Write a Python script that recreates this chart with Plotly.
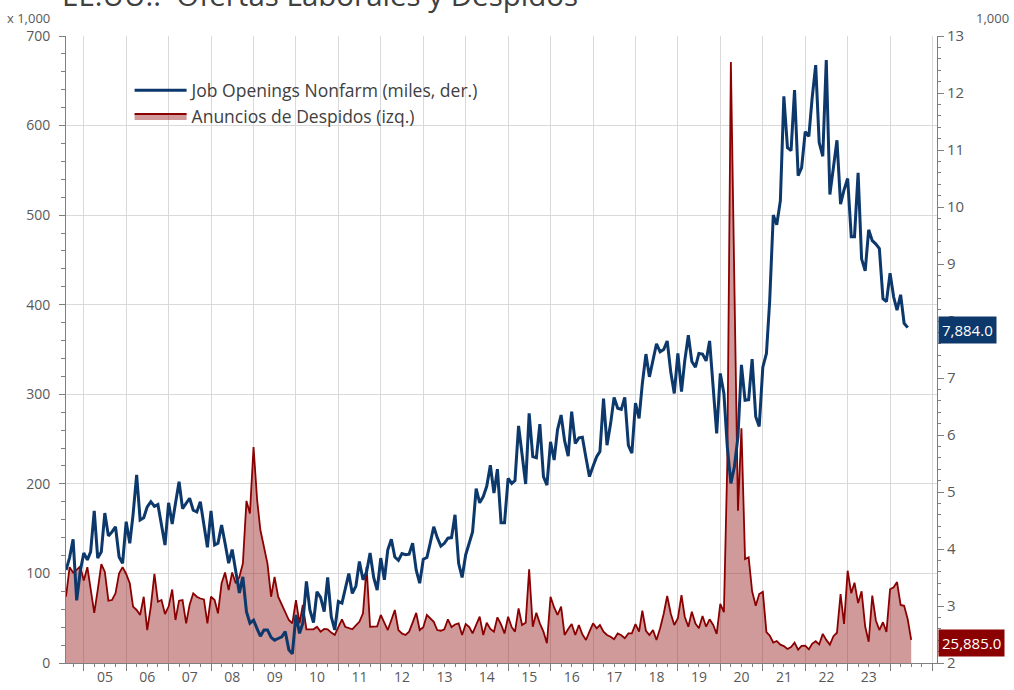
import pandas as pd
import plotly.graph_objects as go

# ---------------- data ----------------
start_month = "2004-08-01"

# Anuncios de despidos (Challenger), miles  -> eje izquierdo (x 1,000)
despidos = [
    74, 107, 101, 104, 108, 92, 107, 81.5, 56, 81.5, 110.5, 102, 69.6, 70.3, 77.8, 100,
    107, 99.4, 89, 62.9, 59.2, 53.6, 74, 36.8, 63, 99.4, 68.4, 70.3, 54.7, 63, 82, 48,
    69.6, 70.3, 44.3, 65, 77.8, 74, 72, 71, 44.3, 74, 70.3, 55.5, 89, 101, 81.5, 101,
    89, 96, 111, 181, 167, 241, 182, 148.5, 130, 111, 74, 96, 74, 65, 55.5, 48,
    44.3, 70.3, 44.3, 64.8, 37.6, 38, 37.6, 40.5, 35, 38, 37.6, 34, 31.3, 40, 48.8, 40.5,
    39, 37.6, 42, 46, 55.5, 107.5, 40.5, 40.5, 41, 53.6, 45, 36.8, 48, 59.2, 36.8, 33,
    31.3, 35, 45, 56, 36.8, 40, 53.6, 50, 46, 36.8, 36, 37.6, 48.8, 40, 43, 44.3,
    31.3, 43.5, 40, 33, 42, 51.7, 31.3, 45, 38, 35, 51, 43, 33, 51.7, 40, 35,
    61, 42.4, 45, 104.6, 40.5, 56, 44.3, 35, 22, 74, 62, 53.6, 63, 31.3, 38, 43.5,
    31.3, 42.4, 32, 25.7, 35, 44.3, 38.7, 42.4, 35, 31.3, 29.4, 26.5, 33, 31, 27.6, 33,
    33, 43.5, 35, 58.4, 36, 31.3, 36.8, 25.7, 38.7, 55, 74.8, 55, 42.4, 50, 75.9, 51.7,
    40.5, 57.3, 44, 38.7, 52.5, 40.5, 48.8, 42.4, 32.4, 65.9, 56.7, 222, 671, 397, 170, 262,
    116, 118, 80, 64, 77, 79.5, 34.5, 30.6, 22.9, 24.6, 20.5, 18.9, 15.7, 17.9, 22.8, 14.9,
    19.1, 19.3, 15.2, 21.4, 24.3, 20.7, 32.5, 25.8, 20.5, 29.9, 33.8, 77, 43.6, 103, 77.8, 89.7,
    66.9, 80, 40.7, 23.7, 75.2, 47.5, 36.8, 45.5, 34.8, 82.3, 84.6, 90.3, 64.8, 63.8, 48.8, 25.885,
]

# Job Openings Nonfarm, millones -> eje derecho (1,000 de miles)
ofertas = [
    3.63, 3.85, 4.17, 3.1, 3.6, 3.93, 3.81, 3.95, 4.67, 3.84, 3.95, 4.63, 4.23, 4.3, 4.39, 3.86,
    3.75, 4.48, 4.1, 4.6, 5.3, 4.51, 4.55, 4.74, 4.83, 4.75, 4.78, 4.4, 4.07, 4.81, 4.44, 4.8,
    5.18, 4.71, 4.8, 4.89, 4.68, 4.65, 4.83, 4.4, 4.03, 4.67, 4.07, 4.1, 4.42, 4.1, 3.75, 3.99,
    3.6, 3.23, 3.51, 2.9, 2.7, 2.75, 2.6, 2.47, 2.58, 2.58, 2.45, 2.4, 2.43, 2.46, 2.55, 2.23,
    2.16, 2.84, 2.52, 2.7, 3.43, 2.93, 2.71, 3.25, 3.15, 2.9, 3.5, 2.81, 2.58, 3.08, 3.05, 3.3,
    3.57, 3.22, 3.35, 3.78, 3.46, 3.6, 3.93, 3.5, 3.28, 3.84, 3.46, 3.98, 4.17, 3.86, 3.8, 3.92,
    3.9, 3.91, 4.1, 3.63, 3.4, 3.82, 3.85, 4.1, 4.39, 4.2, 4.05, 4.1, 4.19, 4.2, 4.6, 3.75,
    3.5, 3.9, 4.1, 4.3, 5.06, 4.81, 4.92, 5.1, 5.47, 4.98, 5.4, 4.46, 4.46, 5.24, 5.15, 5.2,
    6.16, 5.6, 5.14, 6.38, 5.62, 5.6, 6.19, 5.27, 5.12, 5.88, 5.56, 6.09, 6.35, 5.9, 5.63, 6.41,
    5.85, 5.95, 5.96, 5.6, 5.27, 5.45, 5.62, 5.71, 6.64, 5.82, 6.2, 6.66, 6.47, 6.45, 6.66, 5.82,
    5.68, 6.56, 6.29, 6.9, 7.42, 7.02, 7.3, 7.6, 7.46, 7.5, 7.65, 7.1, 6.73, 7.43, 6.76, 7.3,
    7.75, 7.29, 7.19, 7.43, 7.42, 7.3, 7.65, 6.73, 6.03, 7.08, 6.73, 5.8, 5.15, 5.44, 5.97, 7.23,
    6.61, 6.62, 7.33, 6.32, 6.15, 7.19, 7.43, 8.35, 9.86, 9.69, 10.11, 11.94, 11.04, 10.99, 12.05, 10.55,
    10.69, 11.32, 11.24, 11.9, 12.49, 11.13, 10.89, 12.58, 10.22, 10.7, 11.17, 10.05, 10.3, 10.5, 9.48, 9.48,
    10.6, 9.09, 8.88, 9.6, 9.41, 9.35, 9.27, 8.39, 8.34, 8.84, 8.42, 8.19, 8.46, 7.96, 7.884,
]

year_labels = ["05", "06", "07", "08", "09", "10", "11", "12", "13", "14",
               "15", "16", "17", "18", "19", "20", "21", "22", "23"]
label_years = list(range(2005, 2024))

name_ofertas = "Job Openings Nonfarm (miles, der.)"
name_despidos = "Anuncios de Despidos (izq.)"
title_text = "EE.UU.:  Ofertas Laborales y Despidos"

# ---------------- figure ----------------
d_desp = pd.date_range(start_month, periods=len(despidos), freq="MS")
d_ofer = pd.date_range(start_month, periods=len(ofertas), freq="MS")
label_pos = [pd.Timestamp(f"{y}-07-02") for y in label_years]

BLUE = "#0c386b"
RED = "#8b0000"
GRID = "#d9d9d9"
AXIS = "#7f7f7f"
TXT = "#595959"
FONT = "Open Sans, Noto Sans, sans-serif"
XRANGE = ["2004-08-01", "2025-02-08"]

fig = go.Figure()
fig.add_trace(go.Scatter(
    x=d_desp, y=despidos, name=name_despidos, mode="lines",
    line=dict(color=RED, width=1.8), fill="tozeroy",
    fillcolor="rgba(150,30,30,0.45)", xaxis="x", yaxis="y", legendrank=2,
))
fig.add_trace(go.Scatter(
    x=d_ofer, y=ofertas, name=name_ofertas, mode="lines",
    line=dict(color=BLUE, width=3), xaxis="x2", yaxis="y2", legendrank=1,
))

fig.update_layout(
    width=1014, height=690, autosize=False,
    margin=dict(l=66, r=77, t=36, b=27, autoexpand=False),
    paper_bgcolor="white", plot_bgcolor="white",
    font=dict(family=FONT, color=TXT, size=13),
    showlegend=True,
    legend=dict(x=0.073, y=0.942, xanchor="left", yanchor="top",
                bgcolor="rgba(0,0,0,0)", font=dict(size=17.5, color="#404040"),
                itemwidth=52, tracegroupgap=0),
    xaxis=dict(
        type="date", range=XRANGE, domain=[0, 1], anchor="y", automargin=False,
        tickmode="linear", tick0="2005-01-01", dtick="M12",
        showticklabels=False, ticks="outside", ticklen=7, tickcolor=AXIS,
        showgrid=True, gridcolor=GRID, gridwidth=1,
        showline=True, linecolor=AXIS, linewidth=1, zeroline=False,
        minor=dict(tick0="2005-01-01", dtick="M3", ticks="outside",
                   ticklen=3, tickcolor=AXIS, showgrid=False),
    ),
    xaxis2=dict(
        type="date", range=XRANGE, overlaying="x", anchor="y2", side="bottom",
        automargin=False,
        tickmode="array", tickvals=label_pos, ticktext=year_labels,
        ticks="", showgrid=False, showline=False, zeroline=False,
        ticklabelstandoff=4,
        tickfont=dict(size=14, color=TXT),
    ),
    yaxis=dict(
        range=[0, 700], dtick=100, tick0=0, anchor="x", side="left", automargin=False,
        ticks="outside", ticklen=6, tickcolor=AXIS,
        showgrid=True, gridcolor=GRID, gridwidth=1,
        showline=True, linecolor=AXIS, linewidth=1, zeroline=False,
        ticklabelstandoff=6,
        tickfont=dict(size=14, color=TXT),
        minor=dict(dtick=20, ticks="outside", ticklen=4, tickcolor=AXIS, showgrid=False),
    ),
    yaxis2=dict(
        range=[2, 13], dtick=1, tick0=2, overlaying="y", anchor="x2", side="right",
        automargin=False,
        ticks="outside", ticklen=6, tickcolor=AXIS,
        showgrid=False, showline=True, linecolor=AXIS, linewidth=1, zeroline=False,
        tickfont=dict(size=15, color=TXT),
        minor=dict(dtick=0.2, ticks="outside", ticklen=3, tickcolor=AXIS, showgrid=False),
    ),
)

# title (partly cut off at the top, as in the reference)
fig.add_annotation(text=title_text, xref="paper", yref="paper", x=0, y=1,
                   xanchor="left", yanchor="bottom", xshift=-6, yshift=19,
                   showarrow=False, font=dict(size=29.5, color="#404040"))
# axis unit labels
fig.add_annotation(text="x 1,000", xref="paper", yref="paper", x=0, y=1,
                   xanchor="right", yanchor="bottom", xshift=-14, yshift=7,
                   showarrow=False, font=dict(size=13, color=TXT))
fig.add_annotation(text="1,000", xref="paper", yref="paper", x=1, y=1,
                   xanchor="left", yanchor="bottom", xshift=37, yshift=7,
                   showarrow=False, font=dict(size=13, color=TXT))
# last value labels
fig.add_annotation(text=f"{ofertas[-1] * 1000:,.1f}", xref="paper", yref="y2",
                   x=1, y=ofertas[-1], xanchor="left", yanchor="middle", xshift=1,
                   yshift=-2, showarrow=False, bgcolor=BLUE, borderpad=3,
                   font=dict(size=15, color="white"))
fig.add_annotation(text=f"{despidos[-1] * 1000:,.1f}", xref="paper", yref="y",
                   x=1, y=despidos[-1], xanchor="left", yanchor="middle", xshift=1,
                   yshift=-3, showarrow=False, bgcolor=RED, borderpad=3,
                   font=dict(size=15, color="white"))

fig.write_html("out.html", config={"displayModeBar": False, "responsive": False},
               post_script="document.body.style.margin='0';document.body.style.overflow='hidden';")
